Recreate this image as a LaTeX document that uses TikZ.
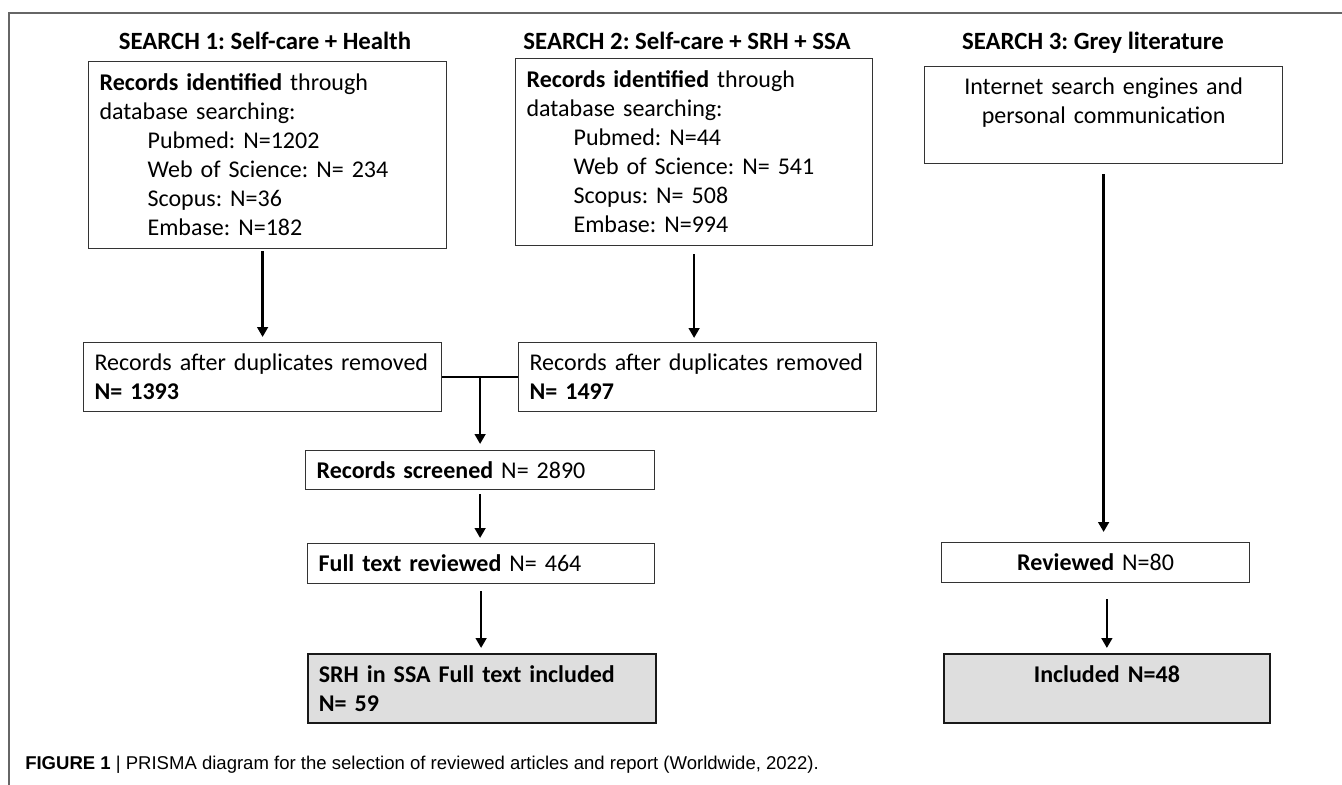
\documentclass[tikz,border=0pt]{standalone}
\usepackage{fontspec}
\setmainfont{Carlito}
\newfontfamily\capfont{Liberation Sans}
\usetikzlibrary{arrows.meta}
\newdimen\px \px=0.75pt
\definecolor{boxgray}{HTML}{DEDEDE}
\frenchspacing
\begin{document}
\begin{tikzpicture}[x=0.75pt,y=-0.75pt,
  box/.style 2 args={draw=black!80, line width=0.9pt, anchor=north west,
    inner xsep=11\px, inner ysep=0pt, align=left,
    text width=#1\px, minimum height=#2\px,
    font=\fontsize{18}{21.75}\selectfont\frenchspacing},
  cbox/.style 2 args={box={#1}{#2}, align=center},
  final/.style={fill=boxgray, line width=1.3pt, draw=black!90},
  title/.style={anchor=base, font=\fontsize{18.6}{21.75}\selectfont\bfseries\frenchspacing},
  arr/.style={line width=1.9pt, -{Triangle[width=8pt,length=7.5pt]}},
  frame/.style={draw=black!60, line width=0.8pt}]
\useasboundingbox (0,0) rectangle (1342,785);
\draw[frame] (9,785) -- (9,13) -- (1342,13);

% titles
\node[title] (t1) at (265,49) {SEARCH 1: Self-care + Health};
\node[title] (t2) at (687,49) {SEARCH 2: Self-care + SRH + SSA};
\node[title] (t3) at (1093,49) {SEARCH 3: Grey literature};

% search 1 / 2 / 3 boxes
\node[box={336}{187}] (s1) at (88,61) {\textbf{Records identified} through\\
database searching:\\
\hspace*{48\px}Pubmed: N=1202\\
\hspace*{48\px}Web of Science: N= 234\\
\hspace*{48\px}Scopus: N=36\\
\hspace*{48\px}Embase: N=182};
\node[box={335}{187}] (s2) at (515,58) {\textbf{Records identified} through\\
database searching:\\
\hspace*{47\px}Pubmed: N=44\\
\hspace*{47\px}Web of Science: N= 541\\
\hspace*{47\px}Scopus: N= 508\\
\hspace*{47\px}Embase: N=994};
\node[cbox={336}{97}] (s3) at (924,66) {Internet search engines and\\ personal communication\\ \mbox{}};

% duplicates removed
\node[box={336}{69}] (d1) at (83,342) {Records after duplicates removed\\ \textbf{N= 1393}};
\node[box={336}{69}] (d2) at (518,342) {Records after duplicates removed\\ \textbf{N= 1497}};

% screening chain
\node[box={327}{39}] (scr) at (305,450) {\textbf{Records screened} N= 2890};
\node[box={325}{40}] (ft) at (307,543) {\textbf{Full text reviewed} N= 464};
\node[box={326}{69}, final] (srh) at (307,653) {\textbf{SRH in SSA Full text included}\\ \textbf{N= 59}};

% grey literature chain
\node[cbox={286}{40}] (rev) at (941,542) {\textbf{Reviewed} N=80};
\node[cbox={304}{69}, final] (inc) at (943,653) {\textbf{Included N=48}\\ \mbox{}};

% connectors
\draw[arr, shorten <=2\px, shorten >=5\px] (s1.south -| d1.north) -- (d1.north);
\draw[arr, shorten <=8\px, shorten >=4\px] (s2.south) -- (s2.south |- d2.north);
\draw[line width=1.9pt] (d1.east) -- (d2.west);
\draw[arr, shorten >=6\px] (d1.east -| scr.north) -- (scr.north);
\draw[arr, shorten <=4\px, shorten >=5\px] (scr.south) -- (scr.south |- ft.north);
\draw[arr, shorten <=7\px, shorten >=5\px] (ft.south) -- (ft.south |- srh.north);
\draw[arr, shorten <=10\px, shorten >=10\px] (s3.south) -- (s3.south |- rev.north);
\draw[arr, shorten <=16\px, shorten >=5\px] (rev.south -| inc.north) -- (inc.north);

% caption
\node[anchor=base west, inner sep=0pt, font=\capfont\fontsize{13.9}{16}\selectfont] (cap) at (25,769)
  {\textbf{FIGURE 1} | PRISMA diagram for the selection of reviewed articles and report (Worldwide, 2022).};
\end{tikzpicture}
\end{document}
